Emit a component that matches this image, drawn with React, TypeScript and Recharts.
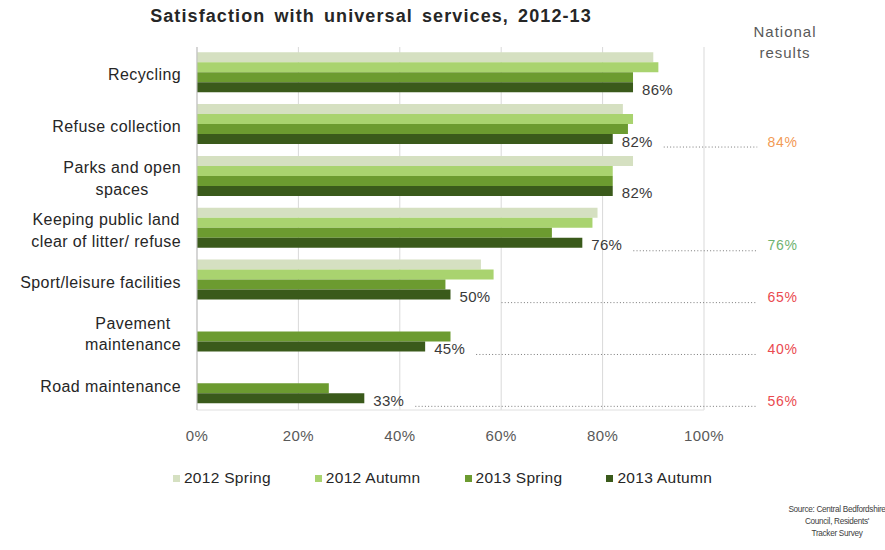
import React from "react"
import { BarChart, Bar, XAxis, YAxis, CartesianGrid, LabelList } from "recharts"

const categories = [
  "Recycling",
  "Refuse collection",
  "Parks and open\nspaces",
  "Keeping public land\nclear of litter/ refuse",
  "Sport/leisure facilities",
  "Pavement\nmaintenance",
  "Road maintenance",
]
const spring2012 = [90, 84, 86, 79, 56, null, null]
const autumn2012 = [91, 86, 82, 78, 58.5, null, null]
const spring2013 = [86, 85, 82, 70, 49, 50, 26]
const autumn2013 = [86, 82, 82, 76, 50, 45, 33]
const national = [null, 84, null, 76, 65, 40, 56]
const xTicks = [0, 20, 40, 60, 80, 100]

const seriesNames = ["2012 Spring", "2012 Autumn", "2013 Spring", "2013 Autumn"]
const seriesColors = ["#d5e0c1", "#a9d36f", "#6c9b30", "#3a5a1b"]
const nationalColors = ["", "#f29a55", "", "#6fb36f", "#ea4a4f", "#ea4a4f", "#ea4a4f"]

const data = categories.map((name, i) => ({
  name,
  s12: spring2012[i],
  a12: autumn2012[i],
  s13: spring2013[i],
  a13: autumn2013[i],
}))

const FONT = "'Liberation Sans', Arial, sans-serif"
const LABEL_SIZE = 16
const LABEL_SPACING = 0.4

let ctx: CanvasRenderingContext2D | null = null
const measure = (t: string, size: number) => {
  if (!ctx) ctx = document.createElement("canvas").getContext("2d")
  if (!ctx) return t.length * size * 0.5
  ctx.font = `${size}px ${FONT}`
  return ctx.measureText(t).width + t.length * LABEL_SPACING
}

const CategoryTick = (props: any) => {
  const { x, y, payload } = props
  const lines: string[] = String(payload.value).split("\n")
  const right = x - 8
  const maxW = Math.max(...lines.map((l) => measure(l, LABEL_SIZE)))
  const cx = right - maxW / 2
  const lh = 21.5
  const startY = y + 2 - ((lines.length - 1) * lh) / 2
  return (
    <g>
      {lines.map((l, i) => (
        <text
          key={i}
          x={cx}
          y={startY + i * lh}
          dy={5.5}
          textAnchor="middle"
          fontSize={LABEL_SIZE}
          letterSpacing={LABEL_SPACING}
          fontFamily={FONT}
          fill="#262626"
        >
          {l}
        </text>
      ))}
    </g>
  )
}

const AutumnLabel = (props: any) => {
  const { x, y, width, height, value, index } = props
  if (value == null) return null
  const end = x + width
  const cy = y + height / 2
  const tx = end + 9
  const nat = national[index]
  const perUnit = width / value
  return (
    <g>
      <text x={tx} y={cy + 7.5} fontSize={15} letterSpacing={0.3} fontFamily={FONT} fill="#3a3a3a">
        {value}%
      </text>
      {nat != null && (
        <>
          <line x1={tx + 42} x2={x + perUnit * 110.5} y1={cy + 8} y2={cy + 8} stroke="#7a7a7a" strokeWidth={1} strokeDasharray="1 2.2" />
          <text x={x + perUnit * 112.5} y={cy + 7.5} fontSize={14} letterSpacing={0.8} fontFamily={FONT} fill={nationalColors[index]}>
            {nat}%
          </text>
        </>
      )}
    </g>
  )
}

export default function App() {
  const keys = ["s12", "a12", "s13", "a13"]
  return (
    <div style={{ position: "absolute", left: 0, top: 0, width: 885, height: 550, background: "#fff", fontFamily: FONT }}>
      <div
        style={{
          position: "absolute",
          left: 0,
          width: 742,
          top: 6,
          textAlign: "center",
          fontWeight: "bold",
          fontSize: 18,
          letterSpacing: 1.1,
          wordSpacing: 3,
          color: "#262626",
        }}
      >
        Satisfaction with universal services, 2012-13
      </div>
      <div
        style={{
          position: "absolute",
          left: 735,
          width: 100,
          top: 21,
          textAlign: "center",
          fontSize: 15,
          letterSpacing: 1,
          lineHeight: "21px",
          color: "#595959",
        }}
      >
        National
        <br />
        results
      </div>
      <div
        style={{
          position: "absolute",
          left: 777,
          width: 120,
          top: 504,
          textAlign: "center",
          fontSize: 8.2,
          letterSpacing: -0.3,
          whiteSpace: "nowrap",
          lineHeight: "12px",
          color: "#404040",
        }}
      >
        Source: Central Bedfordshire
        <br />
        Council, Residents'
        <br />
        Tracker Survey
      </div>
      <div
        style={{
          position: "absolute",
          left: 0,
          width: 885,
          top: 469,
          display: "flex",
          justifyContent: "center",
          gap: 44,
          fontSize: 15.5,
          letterSpacing: 0.3,
          color: "#262626",
        }}
      >
        {seriesNames.map((n, i) => (
          <div key={n} style={{ display: "flex", alignItems: "center" }}>
            <span style={{ width: 7, height: 7, background: seriesColors[i], marginRight: 4, display: "inline-block" }} />
            {n}
          </div>
        ))}
      </div>
      <div style={{ position: "absolute", left: 0, top: 0 }}>
        <BarChart
          width={885}
          height={550}
          data={data}
          layout="vertical"
          margin={{ top: 47, right: 181, left: 0, bottom: 110 }}
          barCategoryGap="10%"
          barGap={0}
        >
          <CartesianGrid horizontal={false} stroke="#d9d9d9" />
          <XAxis
            type="number"
            domain={[0, 100]}
            ticks={xTicks}
            tickFormatter={(v) => `${v}%`}
            axisLine={{ stroke: "#e0e0e0" }}
            tickLine={false}
            tickMargin={14}
            height={30}
            tick={{ fontSize: 15, fill: "#595959", fontFamily: FONT, letterSpacing: 0.4 }}
          />
          <YAxis
            type="category"
            dataKey="name"
            width={197}
            axisLine={{ stroke: "#bfbfbf" }}
            tickLine={false}
            tick={<CategoryTick />}
            interval={0}
          />
          {keys.map((k, i) => (
            <Bar key={k} dataKey={k} name={seriesNames[i]} fill={seriesColors[i]} isAnimationActive={false}>
              {k === "a13" && <LabelList dataKey="a13" content={<AutumnLabel />} />}
            </Bar>
          ))}
        </BarChart>
      </div>
    </div>
  )
}
